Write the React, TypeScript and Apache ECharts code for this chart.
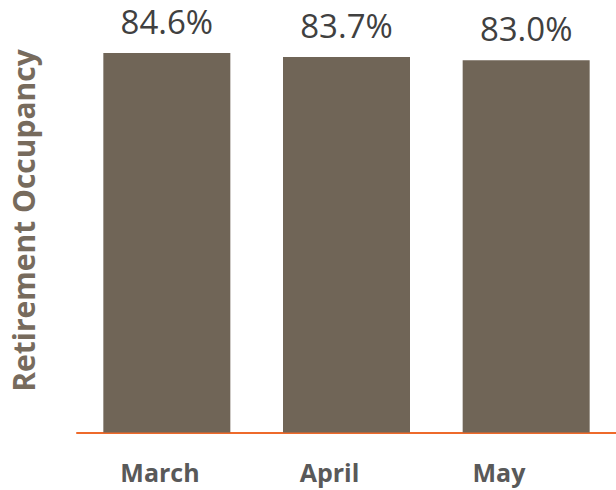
import React, { useEffect, useRef } from "react";
import * as echarts from "echarts";

const categories = ["March", "April", "May"];
const occupancy = [84.6, 83.7, 83.0];
const yTitle = "Retirement Occupancy";

export default function App() {
  const ref = useRef<HTMLDivElement>(null);
  useEffect(() => {
    if (!ref.current) return;
    const chart = echarts.init(ref.current, null, { renderer: "svg" });
    chart.setOption({
      animation: false,
      grid: [
        { left: 77, width: 540, top: 53, bottom: 57.5 },
        { left: 75.25, width: 508.5, top: 53, bottom: 57.5 },
      ],
      xAxis: [
        {
          type: "category",
          gridIndex: 0,
          data: categories,
          axisLine: { show: true, lineStyle: { color: "#EE6A2B", width: 2 } },
          axisTick: { show: false },
          axisLabel: { show: false },
        },
        {
          type: "category",
          gridIndex: 1,
          data: categories,
          axisLine: { show: false },
          axisTick: { show: false },
          axisLabel: {
            show: true,
            margin: 27,
            fontFamily: "Open Sans",
            fontWeight: "bold",
            fontSize: 25,
            color: "#595959",
          },
        },
      ],
      yAxis: [
        {
          type: "value",
          gridIndex: 0,
          min: 0,
          max: 84.6,
          show: false,
          splitLine: { show: false },
        },
        { type: "value", gridIndex: 1, min: 0, max: 84.6, show: false },
      ],
      graphic: [
        {
          type: "text",
          x: 23,
          y: 220.5,
          rotation: Math.PI / 2,
          style: {
            text: yTitle,
            fontFamily: "Open Sans",
            fontWeight: "bold",
            fontSize: 30,
            fill: "#776B5D",
            align: "center",
            verticalAlign: "middle",
          },
        },
      ],
      series: [
        {
          type: "bar",
          xAxisIndex: 0,
          yAxisIndex: 0,
          data: occupancy,
          barWidth: 127,
          itemStyle: { color: "#706557" },
          label: {
            show: true,
            position: "top",
            distance: 15,
            formatter: (p: any) => p.value.toFixed(1) + "%",
            fontFamily: "Open Sans",
            fontSize: 33,
            color: "#404040",
          },
        },
      ],
    });
    return () => chart.dispose();
  }, []);
  return (
    <div
      ref={ref}
      style={{ position: "absolute", left: 0, top: 0, width: 616, height: 490 }}
    />
  );
}
